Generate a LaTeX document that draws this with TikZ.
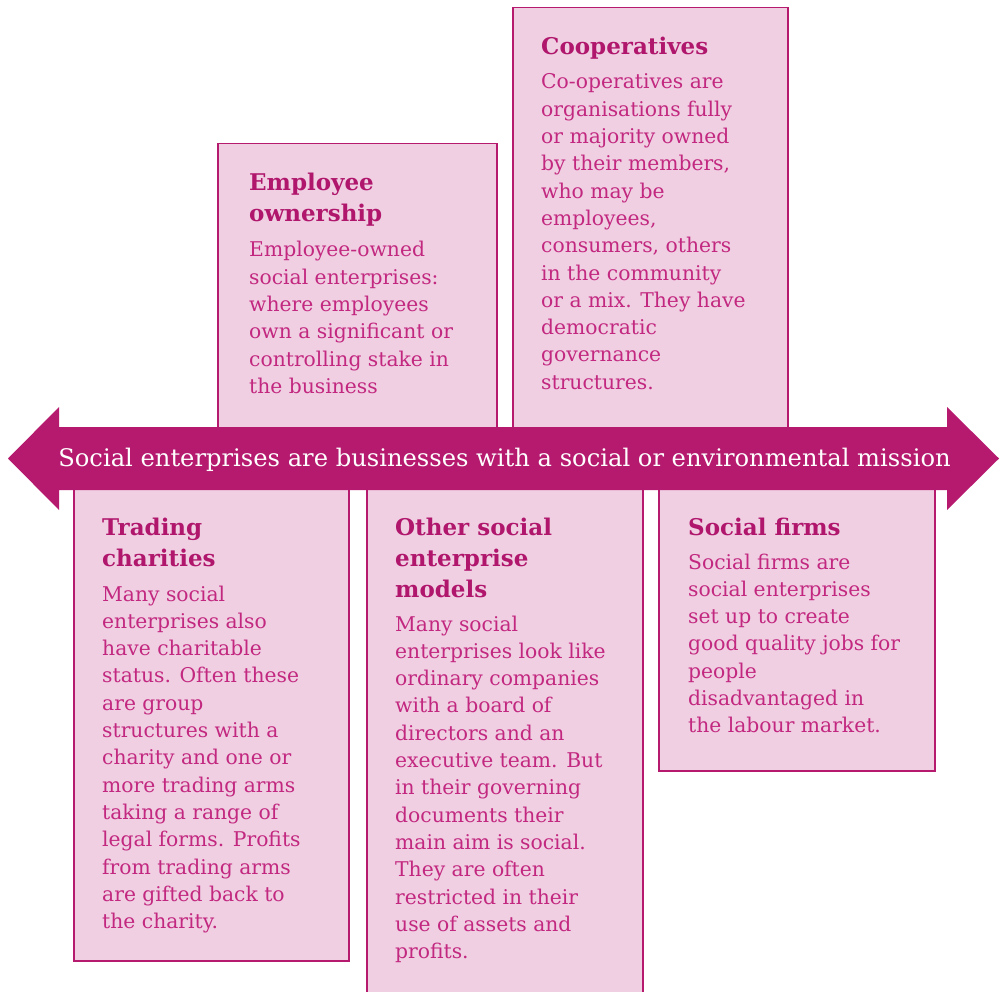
\documentclass[tikz,border=0pt]{standalone}
\usepackage{fontspec}
\setmainfont{DejaVu Serif}
\newfontfamily\bodyf{DejaVu Serif}
\newfontfamily\titlef{DejaVu Serif}
\definecolor{mag}{HTML}{B51A6F}
\definecolor{pinkfill}{HTML}{F0CFE3}
\definecolor{bodytxt}{HTML}{C2287F}
\definecolor{titletxt}{HTML}{B0176C}
\tikzset{
  box/.style={draw=mag, fill=pinkfill, line width=1.5pt, inner sep=0pt, anchor=north west},
  ttl/.style={anchor=base west, inner sep=0pt, text=titletxt, font=\titlef\bfseries\fontsize{23}{31}\selectfont},
  bod/.style={anchor=base west, inner sep=0pt, text=bodytxt, font=\bodyf\fontsize{20.3}{27.3}\selectfont},
  banner/.style={fill=mag, draw=none},
  bannertxt/.style={anchor=base, inner sep=0pt, text=white, font=\bodyf\fontsize{24.2}{28}\selectfont}
}
\begin{document}
\begin{tikzpicture}[x=1pt,y=-1pt]
\useasboundingbox (0,0) rectangle (1003,992);
\clip (0,0) rectangle (1003,992);
% boxes
\node[box, minimum width=279pt, minimum height=297pt] (emp) at (217,143) {};
\node[box, minimum width=275pt, minimum height=433pt] (coop) at (512,7) {};
\node[box, minimum width=275pt, minimum height=480pt] (trad) at (73,480) {};
\node[box, minimum width=276pt, minimum height=530pt] (other) at (366,480) {};
\node[box, minimum width=276pt, minimum height=290pt] (firms) at (658,480) {};
% banner arrow
\fill[banner] (8,458.5) -- (59,407) -- (59,427) -- (947,427) -- (947,407) -- (999,458.5)
  -- (947,510) -- (947,490) -- (59,490) -- (59,510) -- cycle;
\node[bannertxt] (mission) at (504.5,466) {Social enterprises are businesses with a social or environmental mission};
% Employee ownership
\node[ttl] (empT) at (249,191) {\begin{tabular}[t]{@{}l@{}}Employee\\ownership\end{tabular}};
\node[bod] (empB) at (249,257) {\begin{tabular}[t]{@{}l@{}}Employee-owned\\social enterprises:\\where employees\\own a significant or\\controlling stake in\\the business\end{tabular}};
% Cooperatives
\node[ttl] (coopT) at (541,55) {Cooperatives};
\node[bod] (coopB) at (541,89) {\begin{tabular}[t]{@{}l@{}}Co-operatives are\\organisations fully\\or majority owned\\by their members,\\who may be\\employees,\\consumers, others\\in the community\\or a mix. They have\\democratic\\governance\\structures.\end{tabular}};
% Trading charities
\node[ttl] (tradT) at (102,535) {\begin{tabular}[t]{@{}l@{}}Trading\\charities\end{tabular}};
\node[bod] (tradB) at (102,601) {\begin{tabular}[t]{@{}l@{}}Many social\\enterprises also\\have charitable\\status. Often these\\are group\\structures with a\\charity and one or\\more trading arms\\taking a range of\\legal forms. Profits\\from trading arms\\are gifted back to\\the charity.\end{tabular}};
% Other social enterprise models
\node[ttl] (otherT) at (395,535) {\begin{tabular}[t]{@{}l@{}}Other social\\enterprise\\models\end{tabular}};
\node[bod] (otherB) at (395,631) {\begin{tabular}[t]{@{}l@{}}Many social\\enterprises look like\\ordinary companies\\with a board of\\directors and an\\executive team. But\\in their governing\\documents their\\main aim is social.\\They are often\\restricted in their\\use of assets and\\profits.\end{tabular}};
% Social firms
\node[ttl] (firmsT) at (688,535) {Social firms};
\node[bod] (firmsB) at (688,569) {\begin{tabular}[t]{@{}l@{}}Social firms are\\social enterprises\\set up to create\\good quality jobs for\\people\\disadvantaged in\\the labour market.\end{tabular}};
\end{tikzpicture}
\end{document}
